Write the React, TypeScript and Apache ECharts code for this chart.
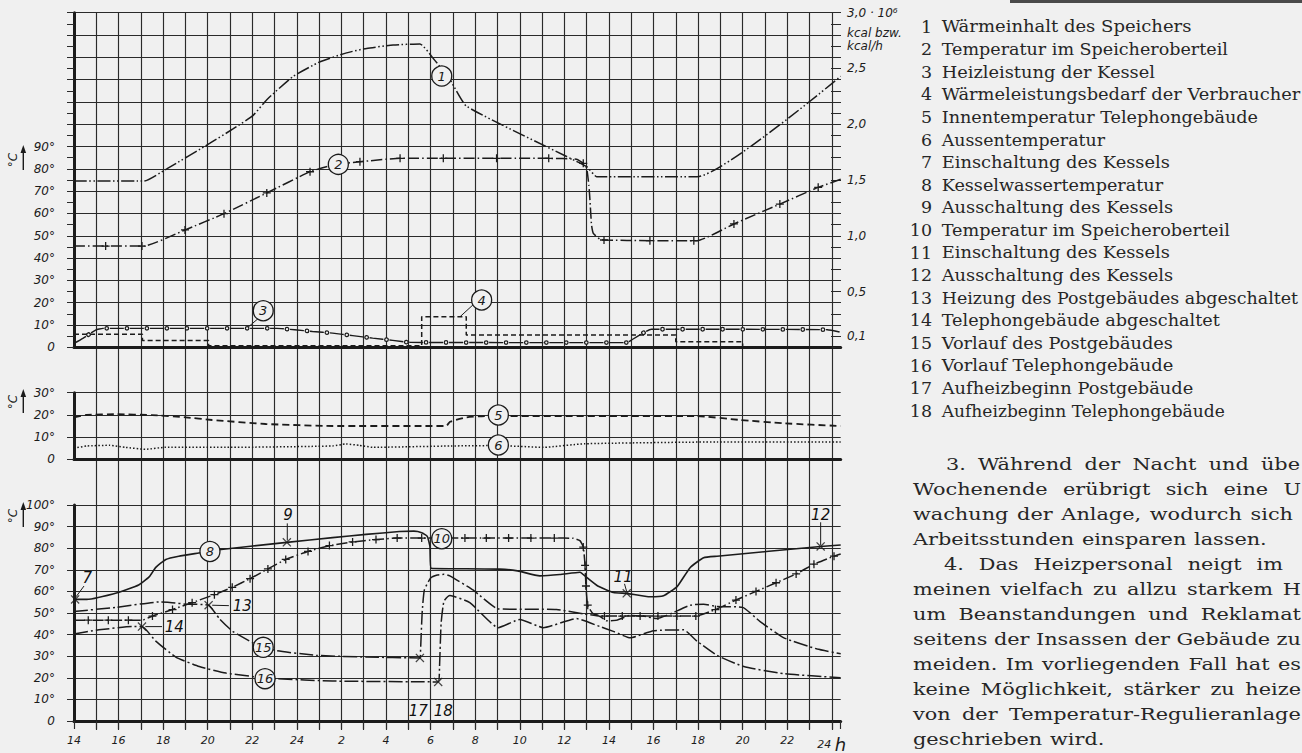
import React, { useEffect, useRef } from "react";
import * as echarts from "echarts";

const INK = "#1b1b1b";
const GRIDC = "#2a2a2a";
const BG = "#f0f0f0";
const SANS = '"DejaVu Sans", sans-serif';
const SERIF_FAMILY = "DejaVu Serif";

// ---------- x axis: hours since 14:00 of the first day ----------
const X_MAX = 34.4;
const START_HOUR = 14;

// ---------- tick label values ----------
const TOP_LEFT_LABELS = [0, 10, 20, 30, 40, 50, 60, 70, 80, 90];
const TOP_RIGHT_LABELS = [1, 5, 10, 15, 20, 25, 30]; // tenths of 10^6 kcal
const MID_LABELS = [0, 10, 20, 30];
const BOTTOM_LABELS = [0, 10, 20, 30, 40, 50, 60, 70, 80, 90, 100];

type Pt = [number, number] | [number, number, string];

// 1 Wärmeinhalt des Speichers (10^6 kcal, right axis)
const waermeinhalt: Pt[] = [
  [0, 1.49], [3.14, 1.49], [4.16, 1.6], [6.1, 1.83], [7.15, 1.96], [8.04, 2.08], [8.65, 2.22],
  [9.84, 2.43], [11.04, 2.56], [12.23, 2.64], [13.13, 2.68], [14.32, 2.71], [15.52, 2.72],
  [16.12, 2.59], [16.87, 2.4], [17.62, 2.16], [23.0, 1.62], [23.45, 1.53], [27.96, 1.53], [34.4, 2.43],
];

// 2 Temperatur im Speicheroberteil (°C, top panel), "p" = cross mark
const speicherOben: Pt[] = [
  [0, 45.4], [1.42, 45.4, "p"], [3.05, 45.4, "p"], [3.14, 45.4], [4.98, 52.6, "p"], [6.73, 59.9, "p"],
  [8.65, 69.2, "p"], [10.59, 78.7, "p"], [11.63, 81.7], [12.83, 83.2, "p"], [14.63, 84.7, "p"],
  [16.57, 84.7, "p"], [18.96, 84.7, "p"], [21.3, 84.7, "p"], [22.55, 84.3], [22.85, 82.5, "p"],
  [23.0, 80.4], [23.1, 72.7], [23.15, 66.0], [23.22, 54.8], [23.3, 51.1], [23.6, 48.4],
  [23.78, 48.1, "p"], [25.84, 47.8, "p"], [27.81, 47.8, "p"], [27.96, 47.8], [29.61, 55.3, "p"],
  [31.67, 64.2, "p"], [33.39, 71.7, "p"], [34.4, 75.3],
];

// 3 Heizleistung der Kessel (10^6 kcal/h, right axis)
const heizleistung: Pt[] = [
  [0, 0.035], [0.4, 0.08], [0.97, 0.155], [1.3, 0.17], [9.1, 0.17], [9.9, 0.157], [10.7, 0.142],
  [11.6, 0.127], [12.5, 0.105], [13.4, 0.082], [14.3, 0.062], [15.1, 0.044], [24.8, 0.042],
  [25.05, 0.07], [25.55, 0.13], [25.9, 0.162], [33.8, 0.158], [34.4, 0.135],
];

// 4 Wärmeleistungsbedarf der Verbraucher (10^6 kcal/h, right axis)
const waermebedarf: Pt[] = [
  [0, 0.117], [3.07, 0.117], [3.07, 0.06], [6.04, 0.06], [6.04, 0.014], [15.6, 0.014], [15.6, 0.275],
  [17.6, 0.275], [17.6, 0.11], [27.0, 0.11], [27.0, 0.05], [30.0, 0.05], [30.0, 0.006], [34.4, 0.006],
];

// 5 Innentemperatur Telephongebäude (°C)
const innenTemp: Pt[] = [
  [0, 18.9], [0.57, 20.0], [1.87, 20.3], [3.5, 19.9], [5.0, 18.9], [6.2, 17.7], [8.6, 15.9], [11.6, 15.0],
  [16.7, 15.0], [16.87, 16.9], [17.6, 18.9], [18.5, 19.5], [27.95, 19.5], [29.9, 17.7], [31.85, 16.2], [34.4, 15.0],
];

// 6 Aussentemperatur (°C)
const aussenTemp: Pt[] = [
  [0, 5.0], [0.57, 6.0], [1.6, 6.3], [2.3, 5.4], [3.2, 4.5], [4.1, 5.4], [7.1, 5.4], [11.6, 6.0], [12.2, 6.9],
  [12.8, 6.3], [13.4, 5.4], [16.9, 6.0], [19.0, 6.2], [21.06, 5.4], [22.9, 7.0], [28.85, 7.8], [34.4, 7.8],
];

// 8 Kesselwassertemperatur (°C)
const kesselwasser: Pt[] = [
  [0, 56.3], [0.57, 56.3], [2.02, 59.6], [2.9, 63], [3.37, 66.7], [3.67, 71.1], [4.12, 74.8], [4.7, 76.3],
  [5.6, 77.8], [6.5, 79.3], [9.55, 82.7], [11.6, 84.9], [13.1, 86.4], [14.6, 87.7], [15.25, 87.9],
  [15.6, 87.2], [15.85, 85.5], [15.97, 80.8], [16.02, 70.7], [17.0, 70.5], [19.1, 70.3], [19.9, 69.5],
  [20.9, 67.2], [21.8, 67.8], [22.7, 68.9], [23.0, 66.5], [23.5, 62.5], [24.2, 59.5], [24.8, 59.1],
  [25.85, 57.5], [26.45, 58.0], [27.06, 62.2], [27.65, 71.1], [28.25, 75.6], [28.85, 76.3], [33.5, 80.8], [34.4, 81.5],
];

// 10 Temperatur im Speicheroberteil (°C, bottom panel)
const speicherUnten: Pt[] = [
  [0, 46.7], [0.64, 46.7, "p"], [1.54, 46.7, "p"], [2.44, 46.7, "p"], [3.07, 46.7], [3.52, 48.6, "p"],
  [4.42, 51.6, "p"], [5.3, 54.8, "p"], [6.3, 58.5, "p"], [7.1, 61.9, "p"], [7.9, 65.9, "p"], [8.7, 70.4, "p"],
  [9.5, 74.8, "p"], [10.5, 78.5, "p"], [11.46, 81.2, "p"], [12.5, 82.9, "p"], [13.55, 84, "p"], [14.5, 84.7, "p"],
  [15.6, 84.7, "p"], [17.54, 84.7, "p"], [18.5, 84.7, "p"], [19.5, 84.7, "p"], [20.5, 84.7, "p"],
  [21.55, 84.7, "p"], [22.4, 84.6], [22.7, 83.5], [22.85, 80.5, "p"], [22.93, 72, "p"], [22.97, 62.5, "p"],
  [23.05, 53.6, "p"], [23.3, 49.6], [23.8, 48.6, "p"], [24.6, 48.6, "p"], [25.4, 48.6, "p"], [26.2, 48.6, "p"],
  [27.05, 48.6, "p"], [27.9, 48.6, "p"], [28.78, 51.6, "p"], [29.7, 56, "p"], [30.6, 60, "p"], [31.5, 64, "p"],
  [32.4, 68.1, "p"], [33.2, 72.6, "p"], [34.1, 76.3, "p"], [34.4, 77.3],
];

// 15 Vorlauf des Postgebäudes (°C)
const vorlaufPost: Pt[] = [
  [0, 50.7], [1.87, 52.6], [3.82, 55.1], [4.4, 54.8], [5.0, 54.1], [6.04, 53.6], [6.52, 47.4], [7.12, 41.5],
  [8.02, 36.3], [9.07, 32.6], [10.87, 30.4], [13.1, 29.6], [15.52, 29.2], [15.55, 33], [15.62, 50],
  [15.72, 60.7], [16.0, 66.2], [16.3, 67.6], [16.6, 67.9], [16.86, 67.2], [17.9, 60.7], [19.04, 51.9],
  [21.65, 51.6], [22.85, 49.6], [23.6, 48.4], [23.9, 46.4], [24.36, 46.7], [24.95, 48.9], [25.55, 48.6],
  [26.15, 47.4], [26.75, 49.6], [27.65, 53.6], [28.25, 54.1], [28.85, 53.0], [30.0, 52.6], [30.8, 45.9],
  [31.85, 38.5], [33.35, 33.3], [34.4, 31.1],
];

// 16 Vorlauf Telephongebäude (°C)
const vorlaufTelephon: Pt[] = [
  [0, 40.3], [1.12, 42.2], [2.62, 43.7], [3.05, 43.7], [3.67, 37], [4.57, 29.6], [5.62, 25.2], [6.82, 22.2],
  [8.5, 20.0], [9.07, 19.6], [11.6, 18.5], [16.34, 18.1], [16.4, 25], [16.47, 45], [16.6, 55.5], [16.87, 58.1],
  [17.76, 54.8], [19.04, 43.2], [20.0, 47.0], [21.06, 43.2], [22.55, 47.4], [23.6, 43.7], [24.2, 41.5],
  [24.95, 38.5], [26.0, 41.8], [27.35, 42.2], [27.95, 37], [28.85, 30.4], [30.05, 25.2], [31.85, 21.9], [34.4, 20],
];

// switching points (bottom panel): t, °C
const schaltpunkte: [number, number][] = [
  [0.05, 56.3], [9.55, 82.7], [24.8, 59.1], [33.5, 80.8], [6.04, 53.6], [3.05, 43.7], [15.52, 29.2], [16.34, 18.1],
];

// circled numbers: t, value, text
const circlesTop: [number, number, string][] = [[16.5, 121.6, "1"], [11.86, 82.0, "2"], [8.49, 16.4, "3"], [18.29, 21.2, "4"]];
const circlesMid: [number, number, string][] = [[19.04, 19.95, "5"], [19.04, 6.44, "6"]];
const circlesBottom: [number, number, string][] = [[6.1, 78.5, "8"], [16.5, 84.4, "10"], [8.49, 34.1, "15"], [8.57, 19.6, "16"]];
const textsBottom: [number, number, string][] = [
  [0.6, 66.4, "7"], [9.6, 95.6, "9"], [24.64, 66.7, "11"], [33.5, 95.6, "12"], [7.55, 53.3, "13"], [4.5, 43.7, "14"],
  [15.45, 4.4, "17"], [16.57, 4.4, "18"],
];
const leadersTop: [number, number][][] = [[[7.75, 8.5], [8.3, 13.2]], [[17.32, 13.7], [17.9, 19.0]]];
const leadersBottom: [number, number][][] = [
  [[0.09, 57.5], [0.45, 62.5]], [[9.57, 83.5], [9.57, 91.5]], [[24.7, 63.5], [24.8, 59.8]], [[33.5, 92], [33.5, 81.5]],
  [[6.2, 53.6], [6.95, 53.4]], [[3.2, 43.7], [3.95, 43.7]],
];

const LEGEND = [
  "Wärmeinhalt des Speichers", "Temperatur im Speicheroberteil", "Heizleistung der Kessel",
  "Wärmeleistungsbedarf der Verbraucher", "Innentemperatur Telephongebäude", "Aussentemperatur",
  "Einschaltung des Kessels", "Kesselwassertemperatur", "Ausschaltung des Kessels",
  "Temperatur im Speicheroberteil", "Einschaltung des Kessels", "Ausschaltung des Kessels",
  "Heizung des Postgebäudes abgeschaltet", "Telephongebäude abgeschaltet", "Vorlauf des Postgebäudes",
  "Vorlauf Telephongebäude", "Aufheizbeginn Postgebäude", "Aufheizbeginn Telephongebäude",
];
// right edge of every legend line (layout)
const LEGEND_END = [
  1191.7, 1228.3, 1155, 1300.7, 1258.3, 1105, 1170, 1163.3, 1173.3,
  1230, 1170, 1173.3, 1298.3, 1220, 1173.3, 1173.3, 1193.3, 1225,
];

const PARAGRAPH = [
  "3. Während der Nacht und übe",
  "Wochenende erübrigt sich eine U",
  "wachung der Anlage, wodurch sich",
  "Arbeitsstunden einsparen lassen.",
  "4. Das Heizpersonal neigt im",
  "meinen vielfach zu allzu starkem H",
  "um Beanstandungen und Reklamat",
  "seitens der Insassen der Gebäude zu",
  "meiden. Im vorliegenden Fall hat es",
  "keine Möglichkeit, stärker zu heize",
  "von der Temperatur-Regulieranlage",
  "geschrieben wird.",
];
// layout of paragraph lines: [left, right or 0 when the line is not justified]
const PARA_LAYOUT: [number, number][] = [
  [946, 1300], [913, 1301], [913, 1293], [913, 0], [944, 1283], [913, 1301],
  [913, 1301], [913, 1301], [913, 1301], [913, 1301], [913, 1301], [913, 0],
];

const PLUS = "path://M4.2,0H5.8V4.2H10V5.8H5.8V10H4.2V5.8H0V4.2H4.2Z";
const XMARK = "path://M1,0L5,4L9,0L10,1L6,5L10,9L9,10L5,6L1,10L0,9L4,5L0,1Z";

let measureCtx: CanvasRenderingContext2D | null = null;
function measure(s: string, size: number): number {
  if (!measureCtx) measureCtx = document.createElement("canvas").getContext("2d");
  if (!measureCtx) return s.length * size * 0.55;
  measureCtx.font = `${size}px "${SERIF_FAMILY}"`;
  return measureCtx.measureText(s).width;
}

function hourLabel(v: number): string {
  const t = Math.round(v);
  if (Math.abs(v - t) > 1e-6 || t % 2 !== 0) return "";
  if (t === 34) return "24 {h|h}";
  const h = (START_HOUR + t) % 24;
  return String(h === 0 ? 24 : h);
}

function lineSeries(data: Pt[], xi: number, yi: number, style: any, extra: any = {}) {
  return {
    type: "line",
    xAxisIndex: xi,
    yAxisIndex: yi,
    data: data.map((p) => ({ value: [p[0], p[1]], symbol: p[2] === "p" ? PLUS : "none", symbolSize: 8 })),
    showSymbol: true,
    showAllSymbol: true,
    symbol: "none",
    smooth: 0.15,
    lineStyle: { color: INK, width: 1.5, ...style },
    itemStyle: { color: INK },
    silent: true,
    z: 3,
    ...extra,
  };
}

function circleSeries(data: [number, number, string][], xi: number, yi: number) {
  return {
    type: "scatter",
    xAxisIndex: xi,
    yAxisIndex: yi,
    data: data.map((d) => [d[0], d[1], d[2]]),
    symbol: "circle",
    symbolSize: 20,
    itemStyle: { color: BG, borderColor: INK, borderWidth: 1.3, opacity: 1 },
    label: {
      show: true, position: "inside", formatter: (p: any) => p.value[2], color: INK,
      fontSize: 13, fontStyle: "italic", fontFamily: SANS,
    },
    silent: true,
    z: 10,
  };
}

function leaderSeries(seg: [number, number][], xi: number, yi: number) {
  return {
    type: "line", xAxisIndex: xi, yAxisIndex: yi, data: seg, symbol: "none",
    lineStyle: { color: INK, width: 1 }, silent: true, z: 4,
  };
}

function serifText(x: number, y: number, text: string, size: number, align = "left", sx = 1) {
  return {
    type: "text", x, y, scaleX: sx, scaleY: 1, silent: true,
    style: {
      text, fontSize: size, fontFamily: SERIF_FAMILY, fill: "#262626",
      textAlign: align, textVerticalAlign: "middle",
    },
  };
}

function buildOption() {
  const gridLine = { lineStyle: { color: GRIDC, width: 1.15 } };
  const L = 74, W = 766.7;
  const axisLabelStyle = { color: INK, fontSize: 12, fontStyle: "italic", fontFamily: SANS };
  const xBase = (gi: number) => ({
    type: "value", gridIndex: gi, min: 0, max: X_MAX, interval: 1,
    axisLine: { show: gi > 0, onZero: false, lineStyle: { color: INK, width: 3 } },
    axisTick: { show: false }, axisLabel: { show: false }, splitLine: { show: false },
  });
  const degFmt = (labels: number[]) => (v: number) => {
    const r = Math.round(v);
    if (!labels.includes(r)) return "";
    return r === 0 ? "0" : r + "°";
  };

  const legendSize = 16.5;
  const numSx = (() => {
    const w = measure("Heizung des Postgebäudes abgeschaltet", legendSize);
    return w > 0 ? Math.min(1.15, Math.max(0.9, 357 / w)) : 1;
  })();

  const paraSize = 16.5;
  const pw = measure("Temperatur-Regulieranlage", paraSize);
  const paraSx = pw > 0 ? Math.min(1.4, Math.max(0.9, 292 / pw)) : 1;

  const graphics: any[] = [];
  graphics.push({ type: "rect", shape: { x: 1010, y: 0, width: 292, height: 3 }, style: { fill: "#4a4a4a" }, silent: true });

  // °C unit marks with arrows
  const units: [number, number, number][] = [[160, 170, 146], [402, 413, 390], [516, 527, 503]];
  units.forEach(([ty, y1, y2]) => {
    graphics.push({
      type: "text", x: 13, y: ty, rotation: Math.PI / 2,
      style: { text: "°C", fontSize: 12, fontStyle: "italic", fontFamily: "DejaVu Sans", fill: INK, textAlign: "center", textVerticalAlign: "middle" },
      silent: true,
    });
    graphics.push({ type: "line", shape: { x1: 23.3, y1, x2: 23.3, y2: y2 + 5 }, style: { stroke: INK, lineWidth: 1.4 }, silent: true });
    graphics.push({ type: "polygon", shape: { points: [[23.3, y2 - 1], [20.5, y2 + 7], [26.1, y2 + 7]] }, style: { fill: INK }, silent: true });
  });
  const kcal = (y: number, text: string) => ({
    type: "text", x: 847, y, silent: true,
    style: { text, fontSize: 12, fontStyle: "italic", fontFamily: "DejaVu Sans", fill: INK, textVerticalAlign: "middle" },
  });
  graphics.push(kcal(33, "kcal bzw."), kcal(46, "kcal/h"));

  // legend list, each line fitted to its right edge
  LEGEND.forEach((txt, i) => {
    const y = 26.7 + i * 22.6;
    const w = measure(txt, legendSize);
    const sx = w > 0 ? Math.min(1.25, Math.max(0.9, (LEGEND_END[i] - 941.7) / w)) : 1;
    graphics.push(serifText(932, y, String(i + 1), legendSize, "right", numSx));
    graphics.push(serifText(941.7, y, txt, legendSize, "left", sx));
  });

  // paragraph, justified word by word between the line's edges
  PARAGRAPH.forEach((line, i) => {
    const [x0, x1] = PARA_LAYOUT[i];
    const y = 464.7 + i * 25;
    const words = line.split(" ");
    const ws = words.map((w) => measure(w, paraSize) * paraSx);
    const total = ws.reduce((a, b) => a + b, 0);
    const natural = measure(" ", paraSize) * paraSx * 1.15;
    const gap = words.length > 1 && x1 > 0 ? Math.max(natural * 0.7, (x1 - x0 - total) / (words.length - 1)) : natural;
    let x = x0;
    words.forEach((w, k) => {
      graphics.push(serifText(x, y, w, paraSize, "left", paraSx));
      x += ws[k] + gap;
    });
  });

  const series: any[] = [
    // top panel
    lineSeries(waermeinhalt, 1, 2, { type: [13, 2.5, 1.5, 2.5, 1.5, 2.5] }),
    lineSeries(speicherOben, 1, 1, { type: [11, 3, 1.5, 3] }),
    lineSeries(heizleistung, 1, 2, { type: [14, 6], width: 1.4 }),
    lineSeries(heizleistung, 1, 2, { type: [0.01, 19.99], cap: "round", width: 4.8, dashOffset: 3 }, { z: 4 }),
    lineSeries(heizleistung, 1, 2, { type: [0.01, 19.99], cap: "round", width: 2.3, dashOffset: 3, color: BG }, { z: 5 }),
    lineSeries(waermebedarf, 1, 2, { type: [5, 3], width: 1.5 }, { smooth: false }),
    // middle panel
    lineSeries(innenTemp, 2, 3, { type: [7, 4], width: 1.8 }),
    lineSeries(aussenTemp, 2, 3, { type: [1.5, 2], width: 1.5 }),
    // bottom panel
    lineSeries(kesselwasser, 3, 4, { width: 1.6 }),
    lineSeries(speicherUnten, 3, 4, { type: [11, 3, 1.5, 3] }),
    lineSeries(vorlaufPost, 3, 4, { type: [14, 3, 2, 3] }),
    lineSeries(vorlaufTelephon, 3, 4, { type: [14, 3, 2, 3] }),
    {
      type: "scatter", xAxisIndex: 3, yAxisIndex: 4, data: schaltpunkte, symbol: XMARK, symbolSize: 9,
      itemStyle: { color: INK }, silent: true, z: 6,
    },
    circleSeries(circlesTop, 1, 1),
    circleSeries(circlesMid, 2, 3),
    circleSeries(circlesBottom, 3, 4),
    {
      type: "scatter", xAxisIndex: 3, yAxisIndex: 4, data: textsBottom.map((d) => [d[0], d[1], d[2]]),
      symbol: "circle", symbolSize: 0.5, itemStyle: { color: BG, opacity: 1 },
      label: {
        show: true, position: "inside", formatter: (p: any) => p.value[2], color: "#111111",
        fontSize: 15, fontStyle: "italic", fontFamily: SANS, opacity: 1,
      },
      silent: true, z: 7,
    },
    ...leadersTop.map((s) => leaderSeries(s, 1, 1)),
    ...leadersBottom.map((s) => leaderSeries(s, 3, 4)),
  ];

  return {
    animation: false,
    backgroundColor: BG,
    grid: [
      { left: L, top: 12.7, width: W, height: 717.3 },
      { left: L, top: 12.7, width: W, height: 334.6 },
      { left: L, top: 392.7, width: W, height: 66.6 },
      { left: L, top: 505, width: W, height: 225 },
    ],
    xAxis: [
      { ...xBase(0), splitLine: { show: true, showMinLine: false, showMaxLine: false, ...gridLine } },
      xBase(1),
      xBase(2),
      {
        ...xBase(3),
        axisTick: { show: true, length: 8, lineStyle: { color: GRIDC, width: 1.15 } },
        axisLabel: {
          show: true, ...axisLabelStyle, fontSize: 11, margin: 14, formatter: hourLabel,
          rich: { h: { fontSize: 18, fontStyle: "italic", fontFamily: SANS, color: INK } },
        },
      },
    ],
    yAxis: [
      { type: "value", gridIndex: 0, min: 0, max: 1, show: false },
      {
        type: "value", gridIndex: 1, min: 0, max: 150, interval: 10, position: "left",
        axisLine: { show: true, lineStyle: { color: INK, width: 3 } },
        axisTick: { show: true, length: 7, lineStyle: { color: GRIDC } },
        minorTick: { show: true, splitNumber: 2, length: 7, lineStyle: { color: GRIDC } },
        axisLabel: { ...axisLabelStyle, margin: 19, formatter: degFmt(TOP_LEFT_LABELS) },
        splitLine: { show: true, ...gridLine },
      },
      {
        type: "value", gridIndex: 1, min: 0, max: 3, interval: 0.1, position: "right", offset: -9.7,
        axisLine: { show: false },
        axisTick: { show: true, length: 10, lineStyle: { color: GRIDC } },
        axisLabel: {
          ...axisLabelStyle, margin: 16,
          formatter: (v: number) => {
            const k = Math.round(v * 10);
            if (!TOP_RIGHT_LABELS.includes(k)) return "";
            if (k === 30) return "3,0 · 10⁶";
            return (k / 10).toFixed(1).replace(".", ",");
          },
        },
        splitLine: { show: false },
      },
      {
        type: "value", gridIndex: 2, min: 0, max: 30, interval: 10,
        axisLine: { show: true, lineStyle: { color: INK, width: 3 } },
        axisTick: { show: true, length: 7, lineStyle: { color: GRIDC } },
        axisLabel: { ...axisLabelStyle, margin: 19, formatter: degFmt(MID_LABELS) },
        splitLine: { show: true, ...gridLine },
      },
      {
        type: "value", gridIndex: 3, min: 0, max: 100, interval: 10,
        axisLine: { show: true, lineStyle: { color: INK, width: 3 } },
        axisTick: { show: true, length: 7, lineStyle: { color: GRIDC } },
        axisLabel: { ...axisLabelStyle, margin: 19, formatter: degFmt(BOTTOM_LABELS) },
        splitLine: { show: true, ...gridLine },
      },
    ],
    series,
    graphic: graphics,
  };
}

export default function App() {
  const ref = useRef<HTMLDivElement>(null);
  useEffect(() => {
    if (!ref.current) return;
    const chart = echarts.init(ref.current, null, { renderer: "svg" });
    chart.setOption(buildOption() as any);
    return () => chart.dispose();
  }, []);
  return <div ref={ref} style={{ position: "absolute", left: 0, top: 0, width: 1302, height: 753, background: BG }} />;
}
